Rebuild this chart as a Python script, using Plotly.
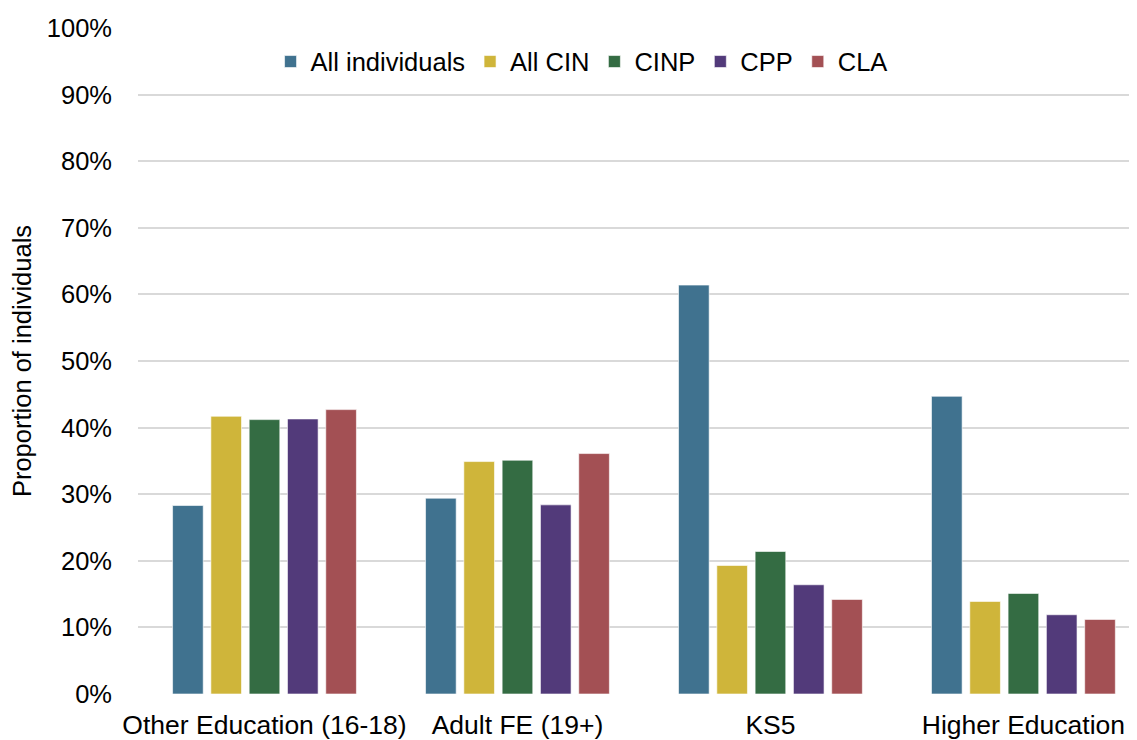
import plotly.graph_objects as go

categories = ["Other Education (16-18)", "Adult FE (19+)", "KS5", "Higher Education"]
series_names = ["All individuals", "All CIN", "CINP", "CPP", "CLA"]
all_individuals = [0.283, 0.294, 0.614, 0.447]
all_cin = [0.417, 0.349, 0.193, 0.139]
cinp = [0.412, 0.351, 0.214, 0.151]
cpp = [0.413, 0.284, 0.164, 0.119]
cla = [0.427, 0.361, 0.142, 0.112]
y_ticks = [0, 0.1, 0.2, 0.3, 0.4, 0.5, 0.6, 0.7, 0.8, 0.9, 1.0]
y_tick_labels = ["0%", "10%", "20%", "30%", "40%", "50%", "60%", "70%", "80%", "90%", "100%"]

colors = ["#40728F", "#CFB53A", "#346C43", "#523A7A", "#A35054"]
series = [all_individuals, all_cin, cinp, cpp, cla]

font_family = "Liberation Sans, Arial, sans-serif"

fig = go.Figure()
for name, vals, col in zip(series_names, series, colors):
    fig.add_trace(go.Bar(
        x=list(range(len(categories))), y=vals, name=name,
        marker=dict(color=col, line=dict(color="rgba(255,255,255,0.6)", width=1)),
    ))

fig.update_layout(
    width=1129, height=732,
    margin=dict(l=130, r=0, t=20, b=46, autoexpand=False),
    paper_bgcolor="white", plot_bgcolor="white",
    barmode="group", bargap=0.243, bargroupgap=0.2,
    font=dict(family=font_family, size=25, color="#000000"),
    legend=dict(orientation="h", x=0.444, xanchor="center", y=0.949, yanchor="middle",
                font=dict(size=25.5), bgcolor="rgba(0,0,0,0)", itemwidth=30,
                traceorder="normal"),
    xaxis=dict(
        tickmode="array", tickvals=list(range(len(categories))), ticktext=categories,
        range=[-0.5, 3.449], showgrid=False, zeroline=False, showline=False,
        ticks="", tickfont=dict(size=26.5), ticklabelstandoff=12, automargin=False,
    ),
    yaxis=dict(
        range=[0, 1.0], tickmode="array", tickvals=y_ticks, ticktext=y_tick_labels,
        showgrid=True, gridcolor="#D9D9D9", gridwidth=2, zeroline=False,
        showline=False, ticks="", tickfont=dict(size=25.5), ticklabelstandoff=25,
        automargin=False,
        title=dict(text="Proportion of individuals", font=dict(size=25.5), standoff=14),
    ),
)

fig.write_html("out.html")
